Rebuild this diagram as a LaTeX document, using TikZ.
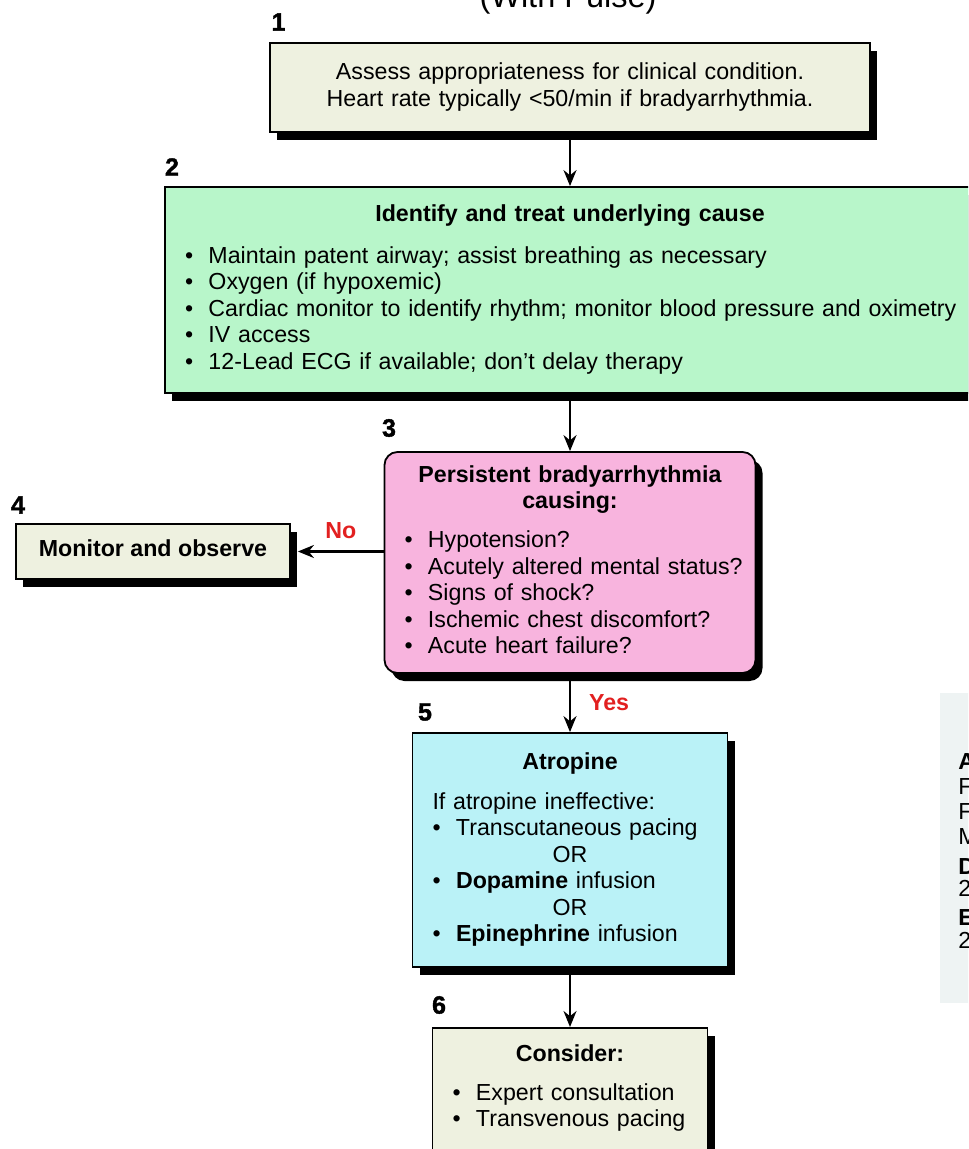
\documentclass[tikz,border=0pt]{standalone}
\usepackage{fontspec}
\setmainfont{Liberation Sans}
\newfontfamily\numfont[BoldFeatures={FakeBold=1.6}]{Liberation Sans}
\usetikzlibrary{arrows.meta}
\usetikzlibrary{shadows,positioning}

\definecolor{paleolive}{RGB}{238,241,224}
\definecolor{mintgreen}{RGB}{184,246,202}
\definecolor{pinkbox}{RGB}{248,180,222}
\definecolor{cyanbox}{RGB}{186,242,247}
\definecolor{panelgray}{RGB}{238,243,243}
\definecolor{answerred}{RGB}{226,32,32}

\newcommand{\ttl}[1]{\strut\hspace*{0pt plus 1filll}#1\hspace*{0pt plus 1filll}\mbox{}}
\newcommand{\itm}{\makebox[11.75pt][l]{\textbullet}}

\tikzset{
  box/.style={draw=black, line width=0.9pt, inner xsep=10pt, inner ysep=4pt, align=left,
    font=\fontsize{11.6}{13.25}\selectfont,
    drop shadow={shadow xshift=3.5pt, shadow yshift=-4pt, fill=black, opacity=1}},
  num/.style={font=\fontsize{12.5}{14}\selectfont\numfont\bfseries, inner sep=0pt},
  lbl/.style={font=\fontsize{11.6}{13}\selectfont\bfseries, text=answerred, inner sep=0pt},
  dose/.style={font=\fontsize{11.6}{13}\selectfont, inner sep=0pt, anchor=west},
  arr/.style={-{Stealth[length=8pt,width=6.5pt]}, line width=1.1pt}
}

\begin{document}
\begin{tikzpicture}[x=0.5pt, y=-0.5pt]
    \useasboundingbox (0,0) rectangle (968,1149);
    \clip (0,0) rectangle (968,1149);

    \node[font=\fontsize{16.25}{19}\selectfont, anchor=base] (pulse) at (568,8) {(With Pulse)};

    \node[num] (n1) at (278.5,22) {1};
    \node[num] (n2) at (172,167) {2};
    \node[num] (n3) at (389,428) {3};
    \node[num] (n4) at (18,505) {4};
    \node[num] (n5) at (425,712) {5};
    \node[num] (n6) at (439,1005) {6};

    \node[box, fill=paleolive, align=center, text width=280pt, minimum height=44.5pt] (assess) at (570,87.5)
      {\strut Assess appropriateness for clinical condition.\\ Heart rate typically <50/min if bradyarrhythmia.\strut};
    \node[box, fill=mintgreen, text width=385pt, minimum height=103pt] (cause) at (570,290)
      {\ttl{\textbf{Identify and treat underlying cause}}\\[7.5pt]
       \itm Maintain patent airway; assist breathing as necessary\\
       \itm Oxygen (if hypoxemic)\\
       \mbox{\itm Cardiac monitor to identify rhythm; monitor blood pressure and oximetry}\\
       \itm IV access\\
       \itm 12-Lead ECG if available; don’t delay therapy\strut};
    \node[box, fill=pinkbox, rounded corners=6.5pt, text width=165.5pt, minimum height=110.5pt] (persist) at (570,562.5)
      {\ttl{\textbf{Persistent bradyarrhythmia}}\\
       \ttl{\textbf{causing:}}\\[6.25pt]
       \itm Hypotension?\\
       \mbox{\itm Acutely altered mental status?}\\
       \itm Signs of shock?\\
       \itm Ischemic chest discomfort?\\
       \itm Acute heart failure?\strut};
    \node[box, fill=paleolive, minimum width=137pt, minimum height=27.5pt] (observe) at (153,551.5)
      {\strut\textbf{Monitor and observe}};
    \node[box, fill=cyanbox, text width=137.5pt, minimum height=117pt] (atropine) at (570,850)
      {\ttl{\textbf{Atropine}}\\[6.75pt]
       If atropine ineffective:\\
       \itm Transcutaneous pacing\\
       \ttl{OR}\\
       \itm \textbf{Dopamine} infusion\\
       \ttl{OR}\\
       \itm \textbf{Epinephrine} infusion\strut};
    \node[box, fill=paleolive, text width=117.5pt, inner ysep=7.5pt, anchor=north] (consider) at (570,1027)
      {\ttl{\textbf{Consider:}}\\[6.25pt]
       \itm Expert consultation\\
       \itm Transvenous pacing\rule[-20pt]{0pt}{0pt}};

    \node[fill=panelgray, anchor=north west, minimum width=40pt, minimum height=155pt, inner sep=0pt] (doses) at (940,693) {};
    \node[dose, font=\fontsize{11.6}{13}\selectfont\bfseries] (da) at (958,762) {A};
    \node[dose] (df1) at (958,787) {F};
    \node[dose] (df2) at (958,812) {F};
    \node[dose] (dm) at (958,837) {M};
    \node[dose, font=\fontsize{11.6}{13}\selectfont\bfseries] (dd) at (958,867) {D};
    \node[dose] (dd2) at (958,888) {2};
    \node[dose, font=\fontsize{11.6}{13}\selectfont\bfseries] (de) at (958,918) {E};
    \node[dose] (de2) at (958,940) {2};

    \draw[arr] (assess.south) -- (cause.north);
    \draw[arr] (cause.south) -- (persist.north);
    \draw[arr] (persist.west |- observe.east) -- node[lbl, above=6pt] (no) {No} ([xshift=3.5pt]observe.east);
    \draw[arr] (persist.south) -- node[lbl, right=9pt] (yes) {Yes} (atropine.north);
    \draw[arr] (atropine.south) -- (consider.north);
\end{tikzpicture}
\end{document}
